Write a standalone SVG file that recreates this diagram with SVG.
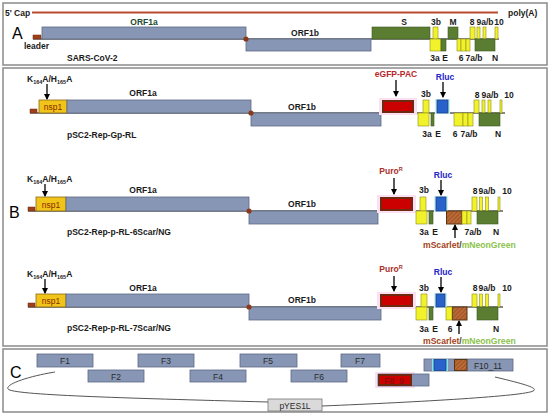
<svg xmlns="http://www.w3.org/2000/svg" width="550" height="416" viewBox="0 0 550 416">
<defs>
<style>
.t{font-family:"Liberation Sans",Arial,sans-serif;font-weight:bold;font-size:8.5px;fill:#1a1a1a}
.tm{text-anchor:middle}
.big{font-family:"Liberation Sans",Arial,sans-serif;font-size:16px;fill:#000}
.fl{font-family:"Liberation Sans",Arial,sans-serif;font-size:8.5px;fill:#2a2a2a;text-anchor:middle}
.panel{fill:#fff;stroke:#8a8a8a;stroke-width:1.5}
.orf{fill:#8796b4;stroke:#5d6a86;stroke-width:0.8}
.grn{fill:#5b7d32;stroke:#3e5722;stroke-width:0.6}
.yel{fill:#f2f22a;stroke:#8c8c1e;stroke-width:0.6}
.blu{fill:#2a62cc;stroke:#1f3c80;stroke-width:0.8}
.redo{fill:#6e2a10}
.red{fill:#cc0000}
.hat{fill:url(#hatch);stroke:#5a3512;stroke-width:1}
.nsp{fill:#f0c418;stroke:#8a6a1a;stroke-width:0.8}
.lead{fill:#a0401a;stroke:#6a2a10;stroke-width:0.5}
.dot{fill:#8a3a1a}
.base{stroke:#111;stroke-width:1.2}
.arr{stroke:#000;stroke-width:1.3;fill:none;marker-end:url(#ah)}
.pink{fill:#fbe0f2}
.cyan{fill:#c4f4f6}
.crv{fill:none;stroke:#555;stroke-width:1}
</style>
<marker id="ah" markerUnits="userSpaceOnUse" markerWidth="6" markerHeight="6" refX="5" refY="3" orient="auto"><path d="M0,0 L6,3 L0,6 z" fill="#000"/></marker>
<pattern id="hatch" patternUnits="userSpaceOnUse" width="3" height="3" patternTransform="rotate(45)"><rect width="3" height="3" fill="#a85a2a"/><line x1="0" y1="0" x2="0" y2="3" stroke="#d2824a" stroke-width="1.2"/></pattern>
</defs>
<rect width="550" height="416" fill="#fff"/>

<!-- Panels -->
<rect id="panelA" class="panel" x="3" y="3" width="544" height="62"/>
<rect id="panelB" class="panel" x="3" y="68" width="544" height="278"/>
<rect id="panelC" class="panel" x="3" y="349" width="544" height="63"/>

<!-- Panel A -->
<g id="A">
<text class="big" x="12" y="39">A</text>
<text class="t" x="5" y="16">5' Cap</text>
<line x1="32" y1="12.5" x2="498" y2="12.5" stroke="#b84a30" stroke-width="2"/>
<text class="t" x="508" y="16">poly(A)</text>
<line class="base" x1="33" y1="39" x2="499" y2="39"/>
<g id="A-leader"><rect class="lead" x="33" y="35" width="8" height="4"/><text class="t" x="24" y="49">leader</text></g>
<g id="A-orf1a"><rect class="orf" x="42" y="27" width="204" height="12"/><text class="t tm" x="144" y="25" style="fill:#1d4a2c">ORF1a</text></g>
<g id="A-orf1b"><rect class="orf" x="246" y="39" width="125" height="12"/><text class="t tm" x="305" y="36">ORF1b</text></g>
<circle class="dot" cx="246" cy="39" r="2.6"/>
<g id="A-genes">
<rect class="grn" x="372" y="27" width="58" height="12"/>
<rect class="yel" x="433" y="27" width="5" height="12"/>
<rect class="yel" x="430" y="39" width="11" height="12"/>
<rect class="grn" x="441" y="39" width="5" height="12"/>
<rect class="grn" x="448" y="27" width="10" height="12"/>
<rect class="yel" x="457" y="39" width="4" height="12"/>
<rect class="yel" x="461" y="39" width="5" height="12"/>
<rect class="yel" x="466" y="39" width="4" height="12"/>
<rect class="yel" x="470" y="27" width="5" height="12"/>
<rect class="yel" x="477" y="27" width="3" height="12"/>
<rect class="yel" x="483" y="27" width="3" height="12"/>
<rect class="grn" x="475" y="39" width="20" height="12"/>
<rect class="yel" x="495" y="27" width="3" height="12"/>
<text class="t tm" x="404" y="25">S</text>
<text class="t tm" x="436" y="25">3b</text>
<text class="t tm" x="453" y="25">M</text>
<text class="t tm" x="472" y="25">8</text>
<text class="t tm" x="485" y="25">9a/b</text>
<text class="t tm" x="499" y="25">10</text>
<text class="t tm" x="435" y="61">3a</text>
<text class="t tm" x="445" y="61">E</text>
<text class="t tm" x="461" y="61">6</text>
<text class="t tm" x="474" y="61">7a/b</text>
<text class="t tm" x="495" y="61">N</text>
</g>
<text class="t" x="67" y="61">SARS-CoV-2</text>
</g>

<!-- Panel B -->
<text class="big" x="9" y="218">B</text>

<g id="B1">
<text class="t" x="27" y="82">K<tspan font-size="5.5" dy="2">164</tspan><tspan dy="-2">A/H</tspan><tspan font-size="5.5" dy="2">165</tspan><tspan dy="-2">A</tspan></text>
<line class="base" x1="30" y1="113" x2="505" y2="113"/>
<rect class="lead" x="30" y="109" width="7" height="4"/>
<g id="B1-nsp1"><rect class="nsp" x="39" y="100" width="28" height="13"/><text class="fl" x="53" y="110" style="fill:#8b2a00">nsp1</text></g>
<g id="B1-orf1a"><rect class="orf" x="67" y="100" width="184" height="13"/><text class="t tm" x="143" y="96">ORF1a</text></g>
<g id="B1-orf1b"><rect class="orf" x="251" y="113" width="130" height="13"/><text class="t tm" x="302" y="110">ORF1b</text></g>
<circle class="dot" cx="251" cy="113" r="2.6"/>
<g id="B1-egfp"><rect class="pink" x="379" y="98" width="38" height="17"/><rect class="redo" x="382" y="100" width="32" height="13"/><rect class="red" x="384" y="102" width="28" height="9"/><text class="t tm" x="396" y="77" style="fill:#b8262a">eGFP-PAC</text></g>
<g id="B1-rluc"><rect class="cyan" x="435" y="99" width="15" height="15"/><rect class="blu" x="437" y="100" width="11" height="13"/><text class="t tm" x="445" y="80" style="fill:#2323c8">Rluc</text></g>
<g id="B1-genes">
<rect class="yel" x="423" y="100" width="6" height="13"/>
<rect class="yel" x="418" y="113" width="11" height="13"/>
<rect class="grn" x="431" y="113" width="3" height="13"/>
<rect class="yel" x="454" y="113" width="9" height="13"/>
<rect class="yel" x="463" y="113" width="5" height="13"/>
<rect class="yel" x="468" y="113" width="5" height="13"/>
<rect class="yel" x="474" y="100" width="5" height="13"/>
<rect class="yel" x="482" y="100" width="3" height="13"/>
<rect class="yel" x="488" y="100" width="3" height="13"/>
<rect class="grn" x="479" y="113" width="21" height="13"/>
<rect class="yel" x="500" y="100" width="2" height="13"/>
<text class="t tm" x="426" y="97">3b</text>
<text class="t tm" x="477" y="98">8</text>
<text class="t tm" x="490" y="98">9a/b</text>
<text class="t tm" x="509" y="98">10</text>
<text class="t tm" x="427" y="137">3a</text>
<text class="t tm" x="438" y="137">E</text>
<text class="t tm" x="455" y="137">6</text>
<text class="t tm" x="469" y="137">7a/b</text>
<text class="t tm" x="498" y="137">N</text>
</g>
<text class="t" x="67" y="138">pSC2-Rep-Gp-RL</text>
</g>

<g id="B2">
<text class="t" x="27" y="182">K<tspan font-size="5.5" dy="2">164</tspan><tspan dy="-2">A/H</tspan><tspan font-size="5.5" dy="2">165</tspan><tspan dy="-2">A</tspan></text>
<line class="base" x1="28" y1="211" x2="503" y2="211"/>
<rect class="lead" x="28" y="207" width="7" height="4"/>
<g id="B2-nsp1"><rect class="nsp" x="36" y="197" width="30" height="14"/><text class="fl" x="51" y="207.5" style="fill:#8b2a00">nsp1</text></g>
<g id="B2-orf1a"><rect class="orf" x="66" y="197" width="183" height="14"/><text class="t tm" x="143" y="193">ORF1a</text></g>
<g id="B2-orf1b"><rect class="orf" x="249" y="211" width="129" height="13"/><text class="t tm" x="302" y="207">ORF1b</text></g>
<circle class="dot" cx="249" cy="211" r="2.6"/>
<g id="B2-puro"><rect class="pink" x="377" y="195" width="39" height="18"/><rect class="redo" x="380" y="197" width="33" height="14"/><rect class="red" x="382" y="199" width="29" height="10"/><text class="t tm" x="391" y="174" style="fill:#a8302a">Puro<tspan font-size="5.5" dy="-3">R</tspan></text></g>
<g id="B2-rluc"><rect class="cyan" x="434" y="196" width="14" height="16"/><rect class="blu" x="436" y="197" width="10" height="14"/><text class="t tm" x="443" y="178" style="fill:#2323c8">Rluc</text></g>
<g id="B2-scar"><rect class="hat" x="446.5" y="211" width="15.5" height="13"/></g>
<g id="B2-genes">
<rect class="yel" x="420" y="197" width="6" height="14"/>
<rect class="yel" x="416" y="211" width="11" height="13"/>
<rect class="grn" x="429" y="211" width="4" height="13"/>
<rect class="yel" x="462" y="211" width="5" height="13"/>
<rect class="yel" x="467" y="211" width="4" height="13"/>
<rect class="yel" x="472" y="197" width="5" height="14"/>
<rect class="yel" x="479.5" y="197" width="3" height="14"/>
<rect class="yel" x="485.5" y="197" width="3" height="14"/>
<rect class="grn" x="477" y="211" width="21" height="13"/>
<rect class="yel" x="498" y="197" width="2" height="14"/>
<text class="t tm" x="424" y="193">3b</text>
<text class="t tm" x="475" y="194">8</text>
<text class="t tm" x="487" y="194">9a/b</text>
<text class="t tm" x="507" y="194">10</text>
<text class="t tm" x="424" y="235">3a</text>
<text class="t tm" x="435" y="235">E</text>
<text class="t tm" x="473" y="235">7a/b</text>
<text class="t tm" x="496" y="235">N</text>
</g>
<text class="t" x="67" y="235">pSC2-Rep-p-RL-6Scar/NG</text>
<text class="t" x="423" y="248" style="font-size:8.6px"><tspan fill="#a3421c">mScarlet</tspan><tspan fill="#4a3a1a">/</tspan><tspan fill="#8cc24a">mNeonGreen</tspan></text>
</g>

<g id="B3">
<text class="t" x="27" y="277">K<tspan font-size="5.5" dy="2">164</tspan><tspan dy="-2">A/H</tspan><tspan font-size="5.5" dy="2">165</tspan><tspan dy="-2">A</tspan></text>
<line class="base" x1="28" y1="307" x2="503" y2="307"/>
<rect class="lead" x="28" y="303" width="7" height="4"/>
<g id="B3-nsp1"><rect class="nsp" x="36" y="294" width="30" height="13"/><text class="fl" x="51" y="304" style="fill:#8b2a00">nsp1</text></g>
<g id="B3-orf1a"><rect class="orf" x="66" y="294" width="183" height="13"/><text class="t tm" x="143" y="291">ORF1a</text></g>
<g id="B3-orf1b"><rect class="orf" x="249" y="307" width="132" height="13"/><text class="t tm" x="302" y="303">ORF1b</text></g>
<circle class="dot" cx="249" cy="307" r="2.6"/>
<g id="B3-puro"><rect class="pink" x="377" y="292" width="39" height="17"/><rect class="redo" x="380" y="294" width="33" height="13"/><rect class="red" x="382" y="296" width="29" height="9"/><text class="t tm" x="391" y="272" style="fill:#a8302a">Puro<tspan font-size="5.5" dy="-3">R</tspan></text></g>
<g id="B3-rluc"><rect class="cyan" x="434" y="293" width="13" height="15"/><rect class="blu" x="436" y="294" width="9" height="13"/><text class="t tm" x="443" y="275" style="fill:#2323c8">Rluc</text></g>
<g id="B3-scar"><rect class="hat" x="452.5" y="307" width="14.5" height="13"/></g>
<g id="B3-genes">
<rect class="yel" x="421" y="294" width="6" height="13"/>
<rect class="yel" x="416" y="307" width="11" height="13"/>
<rect class="grn" x="429" y="307" width="4" height="13"/>
<rect class="yel" x="446" y="307" width="6" height="13"/>
<rect class="yel" x="472" y="294" width="5" height="13"/>
<rect class="yel" x="479.5" y="294" width="3" height="13"/>
<rect class="yel" x="485.5" y="294" width="3" height="13"/>
<rect class="grn" x="477" y="307" width="21" height="13"/>
<rect class="yel" x="498" y="294" width="2" height="13"/>
<text class="t tm" x="424" y="291">3b</text>
<text class="t tm" x="475" y="291">8</text>
<text class="t tm" x="487" y="291">9a/b</text>
<text class="t tm" x="507" y="291">10</text>
<text class="t tm" x="424" y="332">3a</text>
<text class="t tm" x="435" y="332">E</text>
<text class="t tm" x="450" y="332">6</text>
<text class="t tm" x="496" y="332">N</text>
</g>
<text class="t" x="67" y="331">pSC2-Rep-p-RL-7Scar/NG</text>
<text class="t" x="423" y="344" style="font-size:8.6px"><tspan fill="#a3421c">mScarlet</tspan><tspan fill="#4a3a1a">/</tspan><tspan fill="#8cc24a">mNeonGreen</tspan></text>
</g>

<!-- Panel C -->
<text class="big" x="10" y="378">C</text>
<g id="F1"><rect class="orf" x="37" y="354" width="56" height="13"/><text class="fl" x="65" y="364">F1</text></g>
<g id="F2"><rect class="orf" x="88" y="370" width="56" height="12"/><text class="fl" x="116" y="379.5">F2</text></g>
<g id="F3"><rect class="orf" x="138" y="354" width="56" height="13"/><text class="fl" x="166" y="364">F3</text></g>
<g id="F4"><rect class="orf" x="190" y="370" width="56" height="12"/><text class="fl" x="218" y="379.5">F4</text></g>
<g id="F5"><rect class="orf" x="240" y="354" width="57" height="13"/><text class="fl" x="268" y="364">F5</text></g>
<g id="F6"><rect class="orf" x="291" y="370" width="56" height="12"/><text class="fl" x="319" y="379.5">F6</text></g>
<g id="F7"><rect class="orf" x="341" y="354" width="39" height="13"/><text class="fl" x="360" y="364">F7</text></g>
<g id="F8_9"><rect class="pink" x="375" y="372" width="40" height="16"/><rect class="orf" x="378" y="374" width="51" height="12"/><rect class="redo" x="378" y="374" width="34" height="12"/><rect class="red" x="380" y="376" width="30" height="8"/><text class="fl" x="394" y="383.5" style="fill:#7a1010">F8_9</text></g>
<g id="F10_11"><rect class="orf" x="424" y="359" width="89" height="12"/><rect x="432" y="359" width="16" height="12" fill="#7fe6ee"/><rect class="blu" x="434" y="359.5" width="12" height="11"/><rect class="hat" x="454.5" y="359.5" width="12.5" height="11"/><text class="fl" x="488" y="368.5">F10_11</text></g>
<g id="pYES1L"><rect x="268" y="399" width="54" height="12" fill="#dadada" stroke="#777" stroke-width="0.8"/><text class="fl" x="295" y="408.5">pYES1L</text></g>

<!-- Connectors -->
<g id="connectors">
<line class="arr" x1="47" y1="84" x2="47" y2="99"/>
<line class="arr" x1="396" y1="80" x2="396" y2="96"/>
<line class="arr" x1="443" y1="82" x2="443" y2="97"/>
<line class="arr" x1="45" y1="184" x2="45" y2="196"/>
<line class="arr" x1="394" y1="178" x2="394" y2="194"/>
<line class="arr" x1="441" y1="180" x2="441" y2="195"/>
<line class="arr" x1="455" y1="238" x2="455" y2="225"/>
<line class="arr" x1="45" y1="279" x2="45" y2="293"/>
<line class="arr" x1="394" y1="276" x2="394" y2="291"/>
<line class="arr" x1="441" y1="277" x2="441" y2="292"/>
<line class="arr" x1="459" y1="334" x2="459" y2="321"/>
<path class="crv" d="M55,372 C30,376 5,384 8,389 C12,395 120,398 268,402"/>
<path class="crv" d="M495,377 C520,383 540,388 533,391 C525,396 420,402 322,406"/>
</g>
</svg>
